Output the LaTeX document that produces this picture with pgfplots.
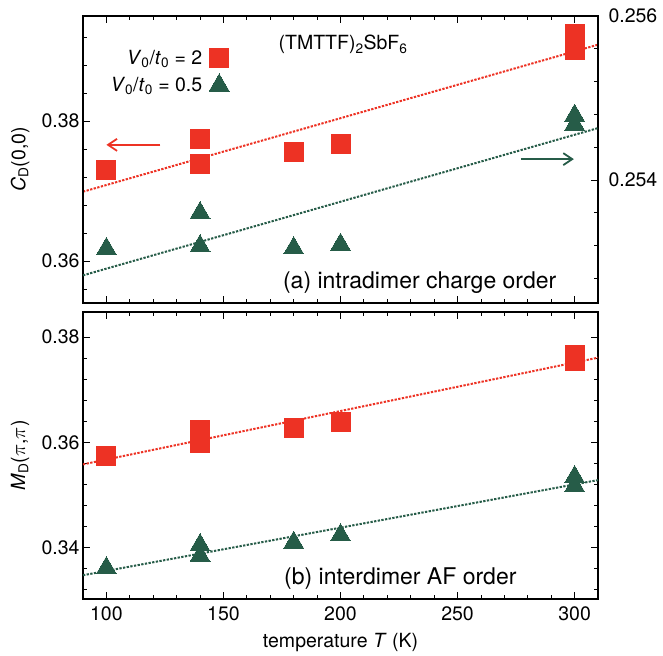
\documentclass[border=0pt]{standalone}
\usepackage{fontspec}
\setmainfont{TeX Gyre Heros}
\usepackage{pgfplots}
\pgfplotsset{compat=1.18}
\usetikzlibrary{arrows.meta}
\definecolor{cred}{RGB}{237,50,36}
\definecolor{cgreen}{RGB}{38,92,72}
\pgfplotsset{
  mystyle/.style={
    scale only axis, width=515bp, height=287bp, xmin=90, xmax=310,
    font=\fontsize{19.5bp}{23bp}\selectfont,
    /pgf/number format/assume math mode=true,
    major tick length=7bp, minor tick length=4bp,
    every tick/.style={black, line width=0.9bp},
    axis line style={line width=1.2bp},
    xtick={100,150,...,300},
    minor xtick={110,120,130,140,160,170,180,190,210,220,230,240,260,270,280,290},
    xtick pos=both, tick align=inside,
    scaled y ticks=false, scaled x ticks=false,
    clip=false,
  },
  trend/.style={line width=2bp, dash pattern=on 2.3bp off 1.4bp, forget plot},
  sq/.style={only marks, mark=square*, mark size=9.5bp, cred, mark options={line width=0pt}},
  tri/.style={only marks, mark=triangle*, mark size=11.5bp, cgreen, mark options={line width=0pt}},
}
\begin{document}
\begin{tikzpicture}[x=1bp,y=1bp]
\path (0,0) rectangle (663,656);
% top panel, left axis
\begin{axis}[mystyle, at={(83bp,353bp)}, anchor=south west,
  ymin=0.354, ymax=0.395, ytick={0.36,0.38},
  minor ytick={0.356,0.364,0.368,0.372,0.376,0.384,0.388,0.392},
  ytick pos=left, xticklabels={},
  yticklabel style={/pgf/number format/.cd, fixed, fixed zerofill, precision=2},
  ylabel={\textit{C}\textsubscript{D}(0,0)},
  ylabel style={at={(axis description cs:-0.122,0.5)}, anchor=center},
  legend plot pos=right, legend cell align=right,
  legend style={draw=none, fill=none, at={(axis description cs:0.29,0.894)}, anchor=north east,
    font=\fontsize{19.5bp}{23bp}\selectfont, row sep=5.5bp, column sep=5bp},
]
\addplot[cred, trend] coordinates {(90,0.3699) (310,0.3909)};
\addplot[sq] coordinates {(100,0.3730) (140,0.3774) (140,0.3738) (180,0.3755) (200,0.3767) (300,0.3924) (300,0.3902)};
\addlegendentry{\textit{V}\textsubscript{0}/\textit{t}\textsubscript{0} = 2}
\addlegendimage{tri}
\addlegendentry{\textit{V}\textsubscript{0}/\textit{t}\textsubscript{0} = 0.5}
\node[anchor=base west] at (axis description cs:0.373,0.8815) {(TMTTF)\textsubscript{2}SbF\textsubscript{6}};
\node[anchor=base east, font=\fontsize{23bp}{27bp}\selectfont] at (axis description cs:0.926,0.0512) {(a) intradimer charge order};
\draw[cred, line width=1.8bp, -{Straight Barb[length=9bp,width=12bp]}] (axis cs:123,0.37659) -- (axis cs:100,0.37659);
\draw[cgreen, line width=1.8bp, -{Straight Barb[length=9bp,width=12bp]}] (axis cs:277,0.37455) -- (axis cs:299.7,0.37455);
\end{axis}
% top panel, right axis
\begin{axis}[mystyle, at={(83bp,353bp)}, anchor=south west,
  ymin=0.2525, ymax=0.256, ytick={0.254,0.256},
  minor ytick={0.2528,0.2532,0.2536,0.2544,0.2548,0.2552,0.2556},
  ytick pos=right, yticklabel pos=right, xticklabels={},
  yticklabel style={/pgf/number format/.cd, fixed, fixed zerofill, precision=3, /tikz/xshift=7bp},
]
\addplot[cgreen, trend] coordinates {(90,0.252837) (310,0.254633)};
\addplot[tri] coordinates {(100,0.25316) (140,0.253193) (140,0.253597) (180,0.253169) (200,0.253211) (300,0.254785) (300,0.254675)};
\end{axis}
% bottom panel
\begin{axis}[mystyle, at={(83bp,57bp)}, anchor=south west,
  ymin=0.3302, ymax=0.3848, ytick={0.34,0.36,0.38},
  minor ytick={0.332,0.336,0.344,0.348,0.352,0.356,0.364,0.368,0.372,0.376},
  ytick pos=both, yticklabel pos=left,
  yticklabel style={/pgf/number format/.cd, fixed, fixed zerofill, precision=2},
  ylabel={\textit{M}\textsubscript{D}($\pi$,$\pi$)},
  ylabel style={at={(axis description cs:-0.122,0.5)}, anchor=center},
  xlabel={temperature \textit{T} (K)},
  xlabel style={at={(axis description cs:0.5,-0.153)}, anchor=center},
  xticklabel style={yshift=-4bp},
]
\addplot[cred, trend] coordinates {(90,0.35581) (310,0.37611)};
\addplot[cgreen, trend] coordinates {(90,0.33472) (310,0.35282)};
\addplot[sq] coordinates {(100,0.35739) (140,0.36244) (140,0.35987) (180,0.36267) (200,0.36392) (300,0.37653) (300,0.37539)};
\addplot[tri] coordinates {(100,0.33608) (140,0.34046) (140,0.33842) (180,0.34093) (200,0.34236) (300,0.35341) (300,0.35170)};
\node[anchor=base east, font=\fontsize{23bp}{27bp}\selectfont] at (axis description cs:0.8485,0.0488) {(b) interdimer AF order};
\end{axis}
\end{tikzpicture}
\end{document}
